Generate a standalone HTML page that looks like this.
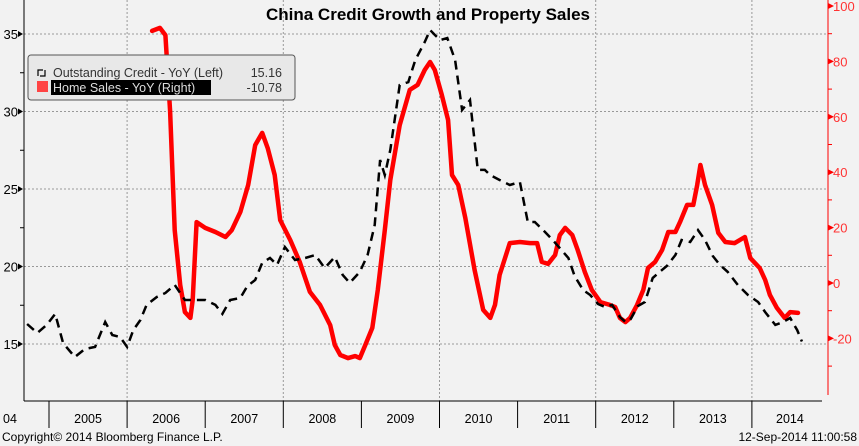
<!DOCTYPE html>
<html><head><meta charset="utf-8"><style>
body{margin:0;background:#f2f2f2;font-family:"Liberation Sans","DejaVu Sans",sans-serif}
svg{display:block}
</style></head><body>
<svg id="c" width="859" height="446" xmlns="http://www.w3.org/2000/svg">
<rect width="859" height="446" fill="#f2f2f2"/>
<text x="428" y="20" text-anchor="middle" font-size="17" font-weight="bold" fill="#000">China Credit Growth and Property Sales</text>
<g id="grid"></g><g id="axes"></g><g id="series"></g>
<g>
<rect x="28" y="55" width="267" height="45" rx="3" fill="#e8e8e8" stroke="#555" stroke-width="1"/>
<g>
<path d="M38 76 V70 H43 M45 70 V76 H40" fill="none" stroke="#000" stroke-width="1.2"/>
<text x="53" y="77" font-size="12.5" fill="#333">Outstanding Credit - YoY (Left)</text>
<text x="282" y="77" font-size="12.5" fill="#333" text-anchor="end">15.16</text>
</g>
<g>
<rect x="37" y="81" width="11" height="11" fill="#ff4444"/>
<rect x="51" y="80" width="160" height="15" fill="#000"/>
<text x="53" y="92" font-size="12.5" fill="#ddd">Home Sales - YoY (Right)</text>
<text x="282" y="92" font-size="12.5" fill="#333" text-anchor="end">-10.78</text>
</g>
</g>
<text x="2" y="441" font-size="12" fill="#000">Copyright© 2014 Bloomberg Finance L.P.</text>
<text x="857" y="441" font-size="12" fill="#000" text-anchor="end">12-Sep-2014 11:00:58</text>
</svg>
<script>
const creditDates=[2004.72,2004.85,2004.97,2005.08,2005.18,2005.33,2005.46,2005.59,2005.72,2005.81,2005.91,2006.00,2006.08,2006.17,2006.25,2006.38,2006.49,2006.61,2006.74,2006.87,2007.00,2007.13,2007.22,2007.32,2007.45,2007.54,2007.64,2007.73,2007.83,2007.92,2008.02,2008.15,2008.28,2008.41,2008.53,2008.66,2008.76,2008.85,2008.98,2009.08,2009.17,2009.24,2009.30,2009.37,2009.49,2009.60,2009.69,2009.81,2009.88,2009.94,2010.01,2010.10,2010.20,2010.29,2010.39,2010.49,2010.58,2010.65,2010.77,2010.90,2011.03,2011.13,2011.22,2011.35,2011.45,2011.54,2011.65,2011.73,2011.84,2011.93,2012.03,2012.12,2012.21,2012.31,2012.38,2012.44,2012.54,2012.63,2012.73,2012.82,2012.91,2013.02,2013.10,2013.21,2013.31,2013.40,2013.50,2013.59,2013.69,2013.82,2013.95,2014.08,2014.17,2014.30,2014.40,2014.49,2014.58,2014.64];
const creditValues=[16.29,15.71,16.23,16.94,15.06,14.16,14.68,14.81,16.42,15.58,15.45,14.81,15.90,16.55,17.52,18.03,18.29,18.81,17.84,17.84,17.84,17.52,16.94,17.84,17.97,18.74,19.13,20.23,20.55,20.10,21.26,20.42,20.55,20.74,19.90,20.61,19.45,18.94,19.65,20.74,22.68,26.87,25.90,27.52,31.71,31.90,33.32,34.48,35.26,34.94,34.61,34.74,33.32,30.10,30.74,26.23,26.23,25.90,25.58,25.26,25.45,22.87,22.87,22.23,21.71,21.19,20.55,19.39,18.48,18.16,17.58,17.39,17.52,16.74,16.42,16.55,17.45,17.71,19.26,19.65,20.03,20.74,21.71,21.58,22.35,21.71,20.68,20.10,19.65,18.81,18.16,17.71,17.06,16.23,16.42,16.68,15.90,15.16];
const salesDates=[2006.32,2006.42,2006.49,2006.55,2006.61,2006.68,2006.74,2006.81,2006.84,2006.89,2007.00,2007.13,2007.26,2007.34,2007.45,2007.55,2007.64,2007.73,2007.80,2007.89,2007.96,2008.09,2008.21,2008.34,2008.47,2008.60,2008.66,2008.73,2008.83,2008.92,2008.98,2009.05,2009.14,2009.21,2009.30,2009.37,2009.49,2009.62,2009.72,2009.81,2009.88,2009.94,2010.03,2010.11,2010.16,2010.24,2010.33,2010.45,2010.56,2010.65,2010.71,2010.77,2010.90,2011.03,2011.16,2011.25,2011.31,2011.39,2011.48,2011.54,2011.61,2011.70,2011.77,2011.86,2011.95,2012.06,2012.18,2012.25,2012.31,2012.38,2012.44,2012.53,2012.61,2012.67,2012.76,2012.85,2012.93,2013.02,2013.08,2013.17,2013.25,2013.30,2013.34,2013.40,2013.49,2013.57,2013.66,2013.78,2013.91,2013.98,2014.10,2014.17,2014.23,2014.32,2014.42,2014.49,2014.59];
const salesValues=[91.0,92.1,89.5,62.1,19.1,-0.7,-10.5,-12.6,-6.1,22.0,19.9,18.4,16.6,19.1,25.6,35.4,49.8,54.2,48.7,39.0,22.7,15.5,7.6,-3.2,-7.9,-15.2,-22.4,-26.0,-27.1,-26.4,-27.1,-22.4,-16.2,-2.5,19.1,37.2,57.0,69.7,71.5,76.9,79.8,76.9,67.9,58.8,39.0,35.4,23.5,4.7,-9.7,-12.6,-7.9,2.9,14.4,14.8,14.4,14.4,7.6,6.9,10.1,17.3,19.9,17.3,11.9,4.0,-2.5,-6.9,-7.9,-8.7,-12.6,-14.1,-12.6,-7.9,-2.5,5.4,7.6,11.9,18.4,18.4,22.0,28.2,28.2,35.4,42.6,35.4,28.2,18.1,14.8,14.4,16.6,9.0,5.4,1.1,-4.3,-9.0,-12.6,-10.5,-10.8];
const leftTicks=[15,20,25,30,35];
const rightTicks=[-20,0,20,40,60,80,100];
const yearLabels=["2004","2005","2006","2007","2008","2009","2010","2011","2012","2013","2014"];

const NS="http://www.w3.org/2000/svg";
const X=t=>49+(t-2005)*78.1;
const YL=v=>34+(35-v)*15.5;
const YR=v=>283-v*2.77;
const PL=24,PR=828,PB=401;
function mk(tag,attrs,parent){const e=document.createElementNS(NS,tag);for(const k in attrs)e.setAttribute(k,attrs[k]);parent.appendChild(e);return e;}
const grid=document.getElementById('grid'),axes=document.getElementById('axes'),ser=document.getElementById('series');
leftTicks.forEach(v=>{
  const g=mk('line',{x1:PL,x2:PR,y1:YL(v),y2:YL(v),stroke:'#999','stroke-dasharray':'2,2','stroke-width':1},grid);
  
  
  const tk=mk('path',{d:`M${PL-1} ${YL(v)} l-5 -3 v6z`,fill:'#000'},axes);
  
  
  const m=mk('line',{x1:PL-4,x2:PL,y1:YL(v+2.5),y2:YL(v+2.5),stroke:'#000'},axes);
  
  
  const t=mk('text',{x:PL-6,y:YL(v)+5,'text-anchor':'end','font-size':13,fill:'#000'},axes);
  t.textContent=v;
  
  
});
rightTicks.forEach(v=>{
  const tk=mk('path',{d:`M${PR} ${YR(v)-3} l6 3 l-6 3z`,fill:'#f00'},axes);
  
  
  const m=mk('line',{x1:PR,x2:PR+4,y1:YR(v-10),y2:YR(v-10),stroke:'#f00'},axes);
  
  
  const t=mk('text',{x:PR+5,y:YR(v)+5,'font-size':13,fill:'#f33'},axes);
  t.textContent=v;
  
  
});
yearLabels.forEach((y,i)=>{
  const yr=+y;
  if(yr%2===0&&yr>2004){
    const g=mk('line',{x1:X(yr),x2:X(yr),y1:0,y2:PB,stroke:'#999','stroke-dasharray':'2,2'},grid);
    
    
  }
  const sx=X(yr+1);
  if(sx<=PR){
    const s=mk('line',{x1:sx,x2:sx,y1:PB,y2:428,stroke:'#000'},axes);
    
    
  }
  const cx=yr===2004?3:(X(yr)+Math.min(X(yr+1),PR))/2;
  const t=mk('text',{x:cx,y:423,'text-anchor':yr===2004?'start':'middle','font-size':12.5,fill:'#000'},axes);
  t.textContent=yr===2004?"04":y;
  
  
});
const la=mk('line',{x1:PL,x2:PL,y1:0,y2:PB,stroke:'#000'},axes);


const ra=mk('line',{x1:PR,x2:PR,y1:0,y2:395,stroke:'#f00'},axes);


const xa=mk('line',{x1:PL,x2:PR-6,y1:PB,y2:PB,stroke:'#000'},axes);


const sp=mk('path',{d:salesDates.map((d,i)=>(i?'L':'M')+X(d).toFixed(1)+' '+YR(salesValues[i]).toFixed(1)).join(''),fill:'none',stroke:'#ff0000','stroke-width':4.5,'stroke-linejoin':'round','stroke-linecap':'round'},ser);


const cp=mk('path',{d:creditDates.map((d,i)=>(i?'L':'M')+X(d).toFixed(1)+' '+YL(creditValues[i]).toFixed(1)).join(''),fill:'none',stroke:'#000','stroke-width':2.5,'stroke-dasharray':'9,6'},ser);


</script>
</body></html>
